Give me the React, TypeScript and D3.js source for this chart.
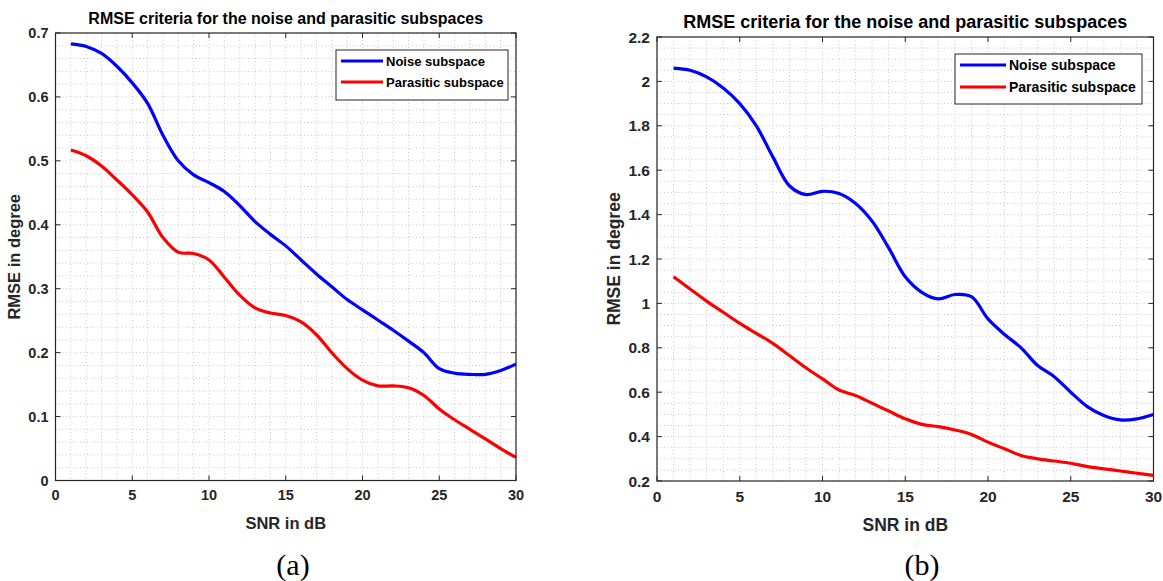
import React from 'react';
import * as d3 from 'd3';

// SNR values (dB) shared by both panels
const snr = d3.range(1, 31);

// panel (a)
const noiseA = [0.683, 0.679, 0.668, 0.648, 0.622, 0.59, 0.54, 0.5, 0.478, 0.466, 0.452, 0.43, 0.405, 0.385, 0.367, 0.345, 0.323, 0.303, 0.283, 0.267, 0.251, 0.235, 0.218, 0.2, 0.175, 0.168, 0.166, 0.166, 0.172, 0.182];
const parasiticA = [0.517, 0.508, 0.492, 0.47, 0.447, 0.42, 0.38, 0.357, 0.355, 0.345, 0.318, 0.29, 0.27, 0.262, 0.258, 0.248, 0.228, 0.2, 0.175, 0.157, 0.148, 0.148, 0.145, 0.133, 0.112, 0.095, 0.08, 0.065, 0.05, 0.036];

// panel (b)
const noiseB = [2.06, 2.05, 2.02, 1.97, 1.9, 1.8, 1.66, 1.53, 1.49, 1.505, 1.495, 1.45, 1.37, 1.25, 1.12, 1.05, 1.02, 1.04, 1.03, 0.93, 0.86, 0.8, 0.72, 0.67, 0.6, 0.535, 0.495, 0.475, 0.48, 0.5];
const parasiticB = [1.12, 1.065, 1.01, 0.96, 0.91, 0.865, 0.82, 0.765, 0.71, 0.66, 0.61, 0.585, 0.55, 0.515, 0.48, 0.455, 0.445, 0.43, 0.41, 0.375, 0.345, 0.315, 0.3, 0.29, 0.28, 0.265, 0.255, 0.245, 0.235, 0.225];

const xTicks = [0, 5, 10, 15, 20, 25, 30];
const yTicksA = [0, 0.1, 0.2, 0.3, 0.4, 0.5, 0.6, 0.7];
const yTicksB = [0.2, 0.4, 0.6, 0.8, 1, 1.2, 1.4, 1.6, 1.8, 2, 2.2];
const seriesNames = ['Noise subspace', 'Parasitic subspace'];
const title = 'RMSE criteria for the noise and parasitic subspaces';

const font = '"Liberation Sans", Arial, sans-serif';

function Panel(props: any) {
  const { left, right, top, bottom, yDomain, yTicks, yMinor, series, caption, fs, legend } = props;
  const x = d3.scaleLinear().domain([0, 30]).range([left, right]);
  const y = d3.scaleLinear().domain(yDomain).range([bottom, top]);
  const line = d3.line<number>()
    .x((d, i) => x(snr[i]))
    .y((d) => y(d))
    .curve(d3.curveCatmullRom);
  const xMinor = d3.range(0, 31, 1);
  const yMin = d3.range(yDomain[0], yDomain[1] + 1e-9, yMinor);
  const colors = ['#0000ff', '#ff0000'];
  const cx = (left + right) / 2;
  const cy = (top + bottom) / 2;

  return (
    <g fontFamily={font} fontWeight="bold" fill="#262626">
      {/* dotted grid */}
      {xMinor.map((v) => (
        <line key={'gx' + v} x1={x(v)} x2={x(v)} y1={top} y2={bottom} stroke="#c8c8c8" strokeWidth={1} strokeDasharray="1,2.5" />
      ))}
      {yMin.map((v, i) => (
        <line key={'gy' + i} x1={left} x2={right} y1={y(v)} y2={y(v)} stroke="#c8c8c8" strokeWidth={1} strokeDasharray="1,2.5" />
      ))}
      {/* ticks inside box */}
      {xTicks.map((v) => (
        <g key={'tx' + v}>
          <line x1={x(v)} x2={x(v)} y1={bottom} y2={bottom - 5} stroke="#262626" />
          <line x1={x(v)} x2={x(v)} y1={top} y2={top + 5} stroke="#262626" />
          <text x={x(v)} y={bottom + fs + 5} textAnchor="middle" fontSize={fs}>{v}</text>
        </g>
      ))}
      {yTicks.map((v: number) => (
        <g key={'ty' + v}>
          <line x1={left} x2={left + 5} y1={y(v)} y2={y(v)} stroke="#262626" />
          <line x1={right} x2={right - 5} y1={y(v)} y2={y(v)} stroke="#262626" />
          <text x={left - 7} y={y(v) + fs * 0.36} textAnchor="end" fontSize={fs}>{v}</text>
        </g>
      ))}
      {/* series */}
      {series.map((s: number[], i: number) => (
        <path key={'s' + i} d={line(s) || ''} fill="none" stroke={colors[i]} strokeWidth={3.2} />
      ))}
      <rect x={left} y={top} width={right - left} height={bottom - top} fill="none" stroke="#262626" strokeWidth={1.2} />
      {/* legend */}
      <g>
        <rect x={legend.x} y={legend.y} width={legend.w} height={legend.h} fill="#fff" stroke="#262626" strokeWidth={1} />
        {seriesNames.map((n, i) => (
          <g key={'l' + i}>
            <line x1={legend.x + 5} x2={legend.x + 5 + legend.len} y1={legend.y + 11 + i * legend.gap} y2={legend.y + 11 + i * legend.gap} stroke={colors[i]} strokeWidth={3} />
            <text x={legend.x + legend.len + 8} y={legend.y + 11 + i * legend.gap + legend.fs * 0.36} fontSize={legend.fs} fill="#000">{n}</text>
          </g>
        ))}
      </g>
      {/* labels */}
      <text x={cx} y={top - 9} textAnchor="middle" fontSize={props.tfs} fill="#000">{title}</text>
      <text x={cx} y={bottom + fs + 34} textAnchor="middle" fontSize={fs + 2}>SNR in dB</text>
      <text transform={`translate(${props.ylx},${cy}) rotate(-90)`} textAnchor="middle" fontSize={fs + 2}>RMSE in degree</text>
      <text x={props.capx} y={575} textAnchor="middle" fontSize={30} fontFamily='"Liberation Serif", "DejaVu Serif", serif' fontWeight="normal" fill="#000">{caption}</text>
    </g>
  );
}

export default function App() {
  return (
    <svg width={1163} height={581} style={{ position: 'absolute', left: 0, top: 0, background: '#fff' }}>
      <rect width={1163} height={581} fill="#fff" />
      <Panel left={55.5} right={516} top={33} bottom={480.5} yDomain={[0, 0.7]} yTicks={yTicksA} yMinor={0.02}
        series={[noiseA, parasiticA]} caption="(a)" fs={14.5} tfs={16} ylx={20} capx={293}
        legend={{ x: 336, y: 50, w: 172, h: 50, len: 42, gap: 21, fs: 13 }} />
      <Panel left={657} right={1153.5} top={37} bottom={481} yDomain={[0.2, 2.2]} yTicks={yTicksB} yMinor={0.05}
        series={[noiseB, parasiticB]} caption="(b)" fs={15.5} tfs={18} ylx={620} capx={922}
        legend={{ x: 955, y: 54, w: 187, h: 50, len: 46, gap: 22, fs: 14 }} />
    </svg>
  );
}
